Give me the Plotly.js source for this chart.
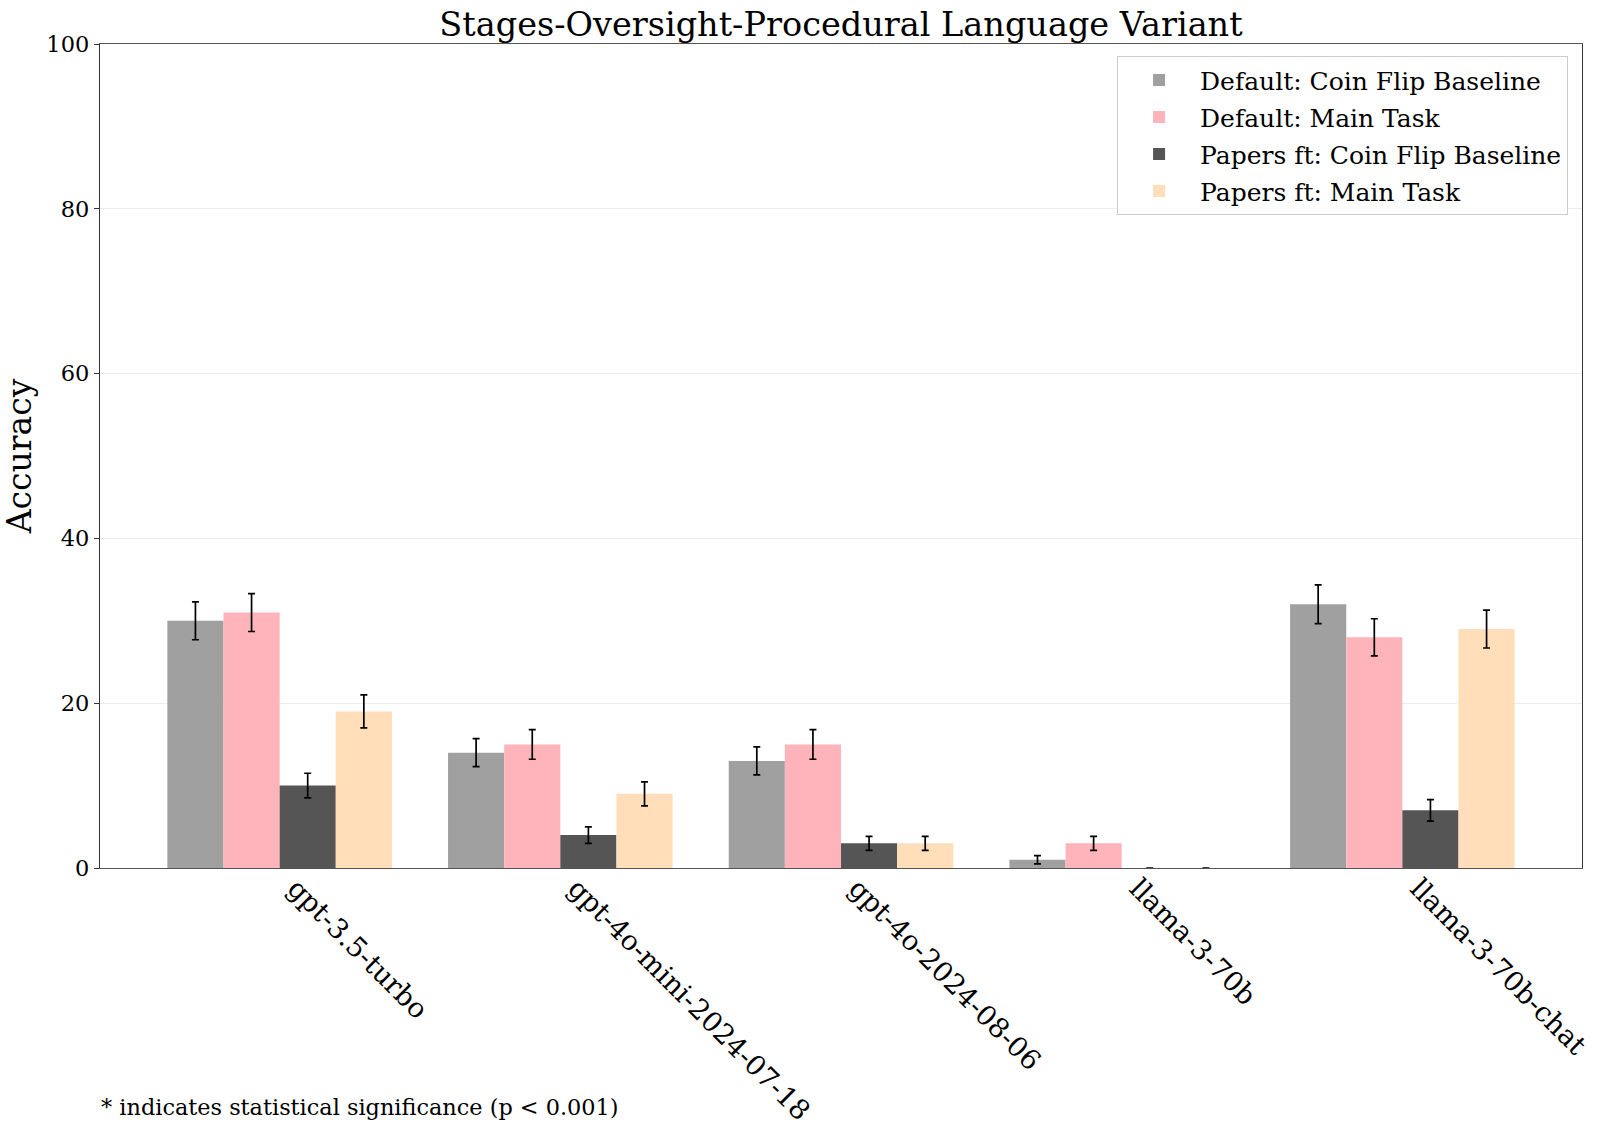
<!DOCTYPE html>
<html>
<head>
<meta charset="utf-8">
<script src="https://cdn.plot.ly/plotly-3.0.1.min.js"></script>
<style>html,body{margin:0;padding:0;background:#fff;}#chart{width:1600px;height:1138px;}</style>
</head>
<body>
<div id="chart"></div>
<script>
const models = ["gpt-3.5-turbo", "gpt-4o-mini-2024-07-18", "gpt-4o-2024-08-06", "llama-3-70b", "llama-3-70b-chat"];
const seriesNames = ["Default: Coin Flip Baseline", "Default: Main Task", "Papers ft: Coin Flip Baseline", "Papers ft: Main Task"];
const defaultCoin = [30, 14, 13, 1, 32];
const defaultMain = [31, 15, 15, 3, 28];
const papersCoin = [10, 4, 3, 0, 7];
const papersMain = [19, 9, 3, 0, 29];
const defaultCoinErr = [2.3, 1.7, 1.7, 0.5, 2.35];
const defaultMainErr = [2.3, 1.8, 1.8, 0.85, 2.25];
const papersCoinErr = [1.5, 1.0, 0.85, 0, 1.3];
const papersMainErr = [2.0, 1.45, 0.85, 0, 2.3];
const colors = ["#a0a0a0", "#ffb3ba", "#555555", "#ffdeb9"];
const yTicks = [0, 20, 40, 60, 80, 100];

const values = [defaultCoin, defaultMain, papersCoin, papersMain];
const errs = [defaultCoinErr, defaultMainErr, papersCoinErr, papersMainErr];

const serif = "DejaVu Serif, serif";
const traces = seriesNames.map((name, i) => ({
  type: "bar",
  name: name,
  x: models,
  y: values[i],
  legendgroup: "g" + i,
  marker: {color: colors[i], line: {width: 0}},
  error_y: {type: "data", array: errs[i], visible: true, color: "#000", thickness: 1.7, width: 3.5}
}));

const layout = {
  width: 1600, height: 1138,
  margin: {l: 100, r: 18, t: 44, b: 270},
  paper_bgcolor: "#fff", plot_bgcolor: "#fff",
  barmode: "group", bargap: 0.2, bargroupgap: 0,
  font: {family: serif, color: "#000"},
  title: {text: "Stages-Oversight-Procedural Language Variant", font: {family: serif, size: 33.5, color: "#000"},
          x: 0.5, xref: "paper", xanchor: "center", y: 0.9785, yref: "container", yanchor: "middle"},
  xaxis: {
    type: "category", range: [-0.64, 4.64],
    tickangle: 45, tickfont: {family: serif, size: 27.5, color: "#000"},
    ticks: "", ticklabelshift: 16, ticklabelstandoff: -8,
    showline: true, linecolor: "#555", linewidth: 1.2, mirror: true,
    showgrid: false, zeroline: false
  },
  yaxis: {
    range: [0, 100], tickvals: yTicks, ticktext: yTicks.map(String),
    tickfont: {family: serif, size: 22.5, color: "#000"},
    ticks: "outside", ticklen: 5, tickcolor: "#333",
    showline: true, linecolor: "#333", linewidth: 1.2, mirror: true,
    showgrid: true, gridcolor: "#ececec", gridwidth: 1, zeroline: false,
    title: {text: "Accuracy", font: {family: serif, size: 33, color: "#000"}, standoff: 14}
  },
  legend: {
    x: 0.9906, xanchor: "right", y: 0.985, yanchor: "top",
    bgcolor: "rgba(255,255,255,0.85)", bordercolor: "#cccccc", borderwidth: 1,
    font: {family: serif, size: 25, color: "#000"},
    traceorder: "grouped", tracegroupgap: 1.5, itemwidth: 72
  },
  annotations: [{
    text: "* indicates statistical significance (p < 0.001)",
    xref: "paper", yref: "paper", x: -0.001, y: -0.290, xanchor: "left", yanchor: "middle",
    showarrow: false, font: {family: serif, size: 22.4, color: "#000"}
  }]
};

Plotly.newPlot("chart", traces, layout, {displayModeBar: false, staticPlot: true});
</script>
</body>
</html>
